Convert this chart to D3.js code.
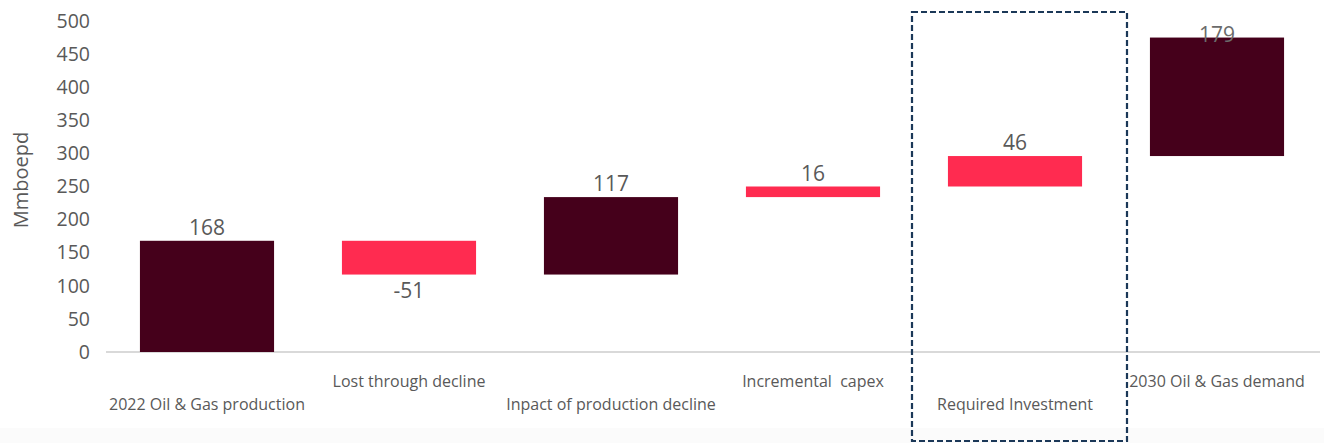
<!DOCTYPE html>
<html lang="en">
<head>
  <meta charset="utf-8">
  <title>Waterfall</title>
  <script src="https://d3js.org/d3.v7.min.js"></script>
  <style type="text/css">
    body { margin: 0; background: #fff; font-family: "Open Sans", sans-serif; }
    svg text { fill: #595959; }
  </style>
</head>
<body>
  <script type="text/javascript">

const categories = ["2022 Oil & Gas production", "Lost through decline", "Inpact of production decline",
                    "Incremental  capex", "Required Investment", "2030 Oil & Gas demand"];
const values = [168, -51, 117, 16, 46, 179];
const kinds = ["main", "step", "main", "step", "step", "main"];
const yTicks = [0, 50, 100, 150, 200, 250, 300, 350, 400, 450, 500];
const highlighted = "Required Investment";

const width = 1324, height = 443;

const svg = d3.select("body").append("svg")
    .attr("width", width)
    .attr("height", height);

// faint band at the bottom of the picture
svg.append("rect")
    .attr("x", 0).attr("y", 428)
    .attr("width", width).attr("height", height - 428)
    .attr("fill", "#fbfbfb");

// running totals
let run = 0;
const bars = categories.map((c, i) => {
  const start = run;
  run += values[i];
  return { cat: c, value: values[i], start: start, end: run, kind: kinds[i] };
});

const xScale = d3.scaleBand()
    .domain(categories)
    .range([106, 1318])
    .paddingInner(0.336)
    .paddingOuter(0.168);

const yScale = d3.scaleLinear()
    .domain([0, 500])
    .range([352, 21]);

const colour = d3.scaleOrdinal()
    .domain(["main", "step"])
    .range(["#45001b", "#ff2b50"]);

// y axis
const yAxis = d3.axisLeft(yScale).tickValues(yTicks).tickSize(0).tickPadding(16);
const gy = svg.append("g")
    .attr("transform", "translate(106,0)")
    .call(yAxis);
gy.select(".domain").remove();
gy.selectAll("text")
    .style("font-family", "Open Sans")
    .style("font-size", "19.5px")
    .style("fill", "#595959");

// baseline
svg.append("line")
    .attr("x1", 106).attr("x2", 1320)
    .attr("y1", yScale(0)).attr("y2", yScale(0))
    .attr("stroke", "#d9d9d9")
    .attr("stroke-width", 2);

svg.append("text")
    .attr("text-anchor", "middle")
    .attr("transform", "translate(28,180) rotate(-90)")
    .style("font-size", "20px")
    .text("Mmboepd");

svg.selectAll("rect.bar")
    .data(bars)
    .enter()
    .append("rect")
    .attr("class", "bar")
    .attr("x", d => xScale(d.cat))
    .attr("width", xScale.bandwidth())
    .attr("y", d => yScale(Math.max(d.start, d.end)))
    .attr("height", d => Math.abs(yScale(d.start) - yScale(d.end)))
    .attr("fill", d => colour(d.kind));

// value labels
svg.selectAll("text.val")
    .data(bars)
    .enter()
    .append("text")
    .attr("class", "val")
    .attr("text-anchor", "middle")
    .attr("x", d => xScale(d.cat) + xScale.bandwidth() / 2)
    .attr("y", (d, i) => {
      if (d.value < 0) return yScale(d.end) + 23;
      if (i === bars.length - 1) return yScale(d.end) + 4;
      return yScale(d.end) - 6;
    })
    .style("font-size", "21px")
    .style("fill", (d, i) => i === bars.length - 1 ? "#6b6b6b" : "#595959")
    .text(d => d.value);

// category labels, staggered
svg.selectAll("text.cat")
    .data(categories)
    .enter()
    .append("text")
    .attr("class", "cat")
    .attr("text-anchor", "middle")
    .attr("x", d => xScale(d) + xScale.bandwidth() / 2)
    .attr("y", (d, i) => i % 2 === 0 ? 410 : 387)
    .style("font-size", "16px")
    .style("white-space", "pre")
    .text(d => d);

// dashed highlight box
const hx = xScale(highlighted);
const step = xScale.step();
svg.append("rect")
    .attr("x", hx - (step - xScale.bandwidth()) / 2 - 2)
    .attr("y", 12)
    .attr("width", step + 13)
    .attr("height", 429)
    .attr("fill", "none")
    .attr("stroke", "#1b3858")
    .attr("stroke-width", 2.2)
    .attr("stroke-dasharray", "6,3");

  </script>
</body>
</html>
